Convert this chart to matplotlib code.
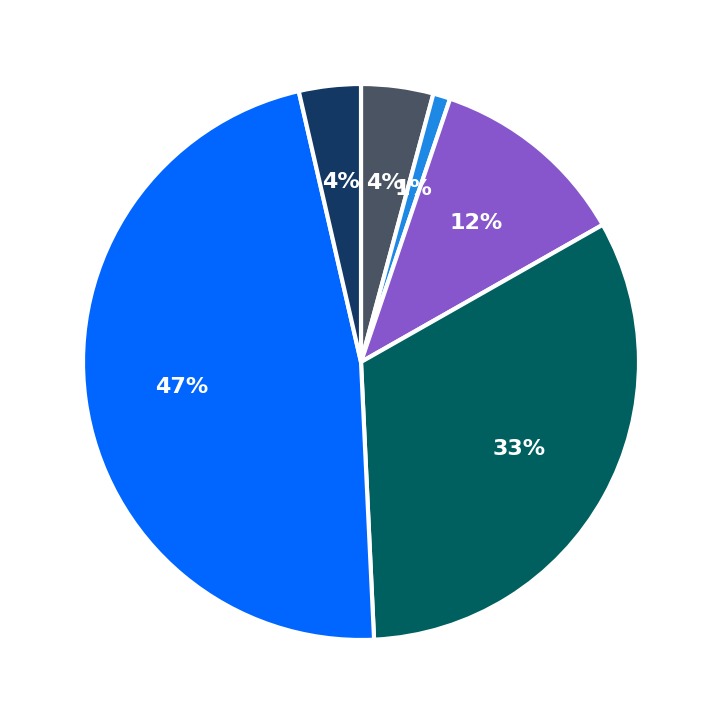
import matplotlib
matplotlib.use("Agg")
import matplotlib.pyplot as plt

values = [4.2, 1.0, 11.6, 32.5, 47.2, 3.6]
labels = ["4%", "1%", "12%", "33%", "47%", "4%"]
colors = ["#4a5462", "#1e88e5", "#8756cc", "#005f5f", "#0066ff", "#133864"]

fig = plt.figure(figsize=(7.23, 7.23), dpi=100)
ax = fig.add_axes([83 / 723, 83 / 723, 556 / 723, 556 / 723])
wedges, texts = ax.pie(values, colors=colors, startangle=90, counterclock=False,
                       labels=labels, labeldistance=0.65,
                       wedgeprops=dict(edgecolor="white", linewidth=3))
for t in texts:
    t.set_color("white")
    t.set_fontsize(16)
    t.set_fontweight("bold")
    t.set_ha("center")
    t.set_va("center")
ax.set_xlim(-1, 1)
ax.set_ylim(-1, 1)
ax.set_aspect("equal")
fig.savefig("out.png", dpi=100)
